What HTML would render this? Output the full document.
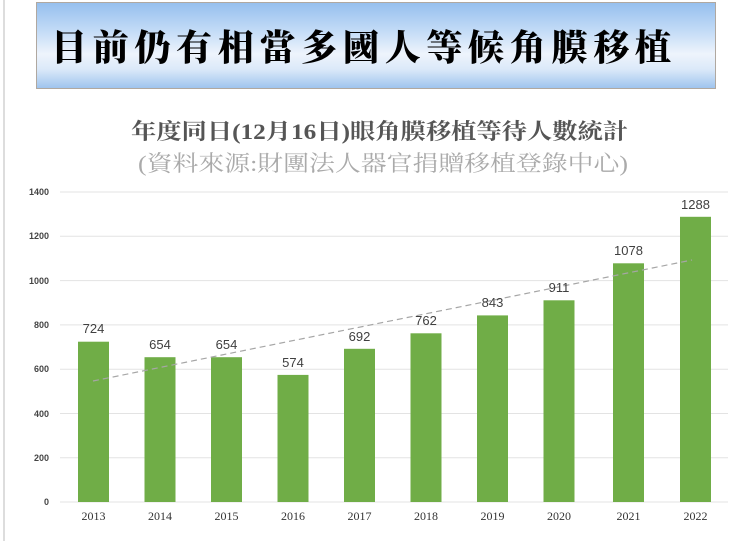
<!DOCTYPE html>
<html><head><meta charset="utf-8"><style>
body{margin:0;width:750px;height:541px;background:#fff;overflow:hidden;position:relative;font-family:"Liberation Sans","Noto Sans CJK TC",sans-serif}
.frame{position:absolute;left:3px;top:0;width:2px;height:541px;background:#ddd}
.banner{position:absolute;left:36px;top:2px;width:680px;height:87px;border:1px solid #b0a8a0;background:linear-gradient(#96bfee 0%,#c6ddf7 35%,#eef4fc 60%,#dbe9f9 78%,#9fc4ee 100%);box-sizing:border-box}
</style></head><body>
<div class="frame"></div>
<div class="banner"></div>
<svg width="750" height="541" style="position:absolute;left:0;top:0">
<text x="51" y="60" textLength="620" lengthAdjust="spacing" font-family="Noto Serif CJK SC,Noto Sans CJK TC,serif" font-weight="900" font-size="36" fill="#000">目前仍有相當多國人等候角膜移植</text>
<text x="131" y="139" textLength="497" lengthAdjust="spacingAndGlyphs" font-family="Liberation Serif,Noto Serif CJK SC,serif" font-size="22" fill="#555" font-weight="bold">年度同日(12月16日)眼角膜移植等待人數統計</text>
<text x="138" y="171" textLength="490" lengthAdjust="spacingAndGlyphs" font-family="Liberation Serif,Noto Serif CJK SC,serif" font-size="22" fill="#aaa">(資料來源:財團法人器官捐贈移植登錄中心)</text>
<g stroke="#e3e3e3" stroke-width="1">
<line x1="60" x2="728" y1="192" y2="192"/><line x1="60" x2="728" y1="236.3" y2="236.3"/><line x1="60" x2="728" y1="280.6" y2="280.6"/><line x1="60" x2="728" y1="324.9" y2="324.9"/><line x1="60" x2="728" y1="369.2" y2="369.2"/><line x1="60" x2="728" y1="413.5" y2="413.5"/><line x1="60" x2="728" y1="457.8" y2="457.8"/><line x1="60" x2="728" y1="502" y2="502"/>
</g>
<g font-size="9" font-weight="bold" fill="#444" text-anchor="end">
<text x="49" y="195">1400</text><text x="49" y="239">1200</text><text x="49" y="284">1000</text><text x="49" y="328">800</text><text x="49" y="372">600</text><text x="49" y="417">400</text><text x="49" y="461">200</text><text x="49" y="505">0</text>
</g>
<g fill="#70ad47">
<rect x="78" y="341.7" width="31" height="160.3"/>
<rect x="144.5" y="357.2" width="31" height="144.8"/>
<rect x="211" y="357.2" width="31" height="144.8"/>
<rect x="277.5" y="374.9" width="31" height="127.1"/>
<rect x="344" y="348.8" width="31" height="153.2"/>
<rect x="410.5" y="333.3" width="31" height="168.7"/>
<rect x="477" y="315.4" width="31" height="186.6"/>
<rect x="543.5" y="300.3" width="31" height="201.7"/>
<rect x="613" y="263.3" width="31" height="238.7"/>
<rect x="680" y="216.8" width="31" height="285.2"/>
</g>
<line x1="93" y1="381" x2="692" y2="260" stroke="#a6a6a6" stroke-width="1.2" stroke-dasharray="6,4"/>
<g font-size="13" fill="#404040" text-anchor="middle">
<text x="93.5" y="333">724</text><text x="160" y="349">654</text><text x="226.5" y="349">654</text><text x="293" y="367">574</text><text x="359.5" y="341">692</text><text x="426" y="325">762</text><text x="492.5" y="307">843</text><text x="559" y="292">911</text><text x="628.5" y="255">1078</text><text x="695.5" y="209">1288</text>
</g>
<g font-family="Liberation Serif,serif" font-size="12" fill="#333" text-anchor="middle">
<text x="93.5" y="520">2013</text><text x="160" y="520">2014</text><text x="226.5" y="520">2015</text><text x="293" y="520">2016</text><text x="359.5" y="520">2017</text><text x="426" y="520">2018</text><text x="492.5" y="520">2019</text><text x="559" y="520">2020</text><text x="628.5" y="520">2021</text><text x="695.5" y="520">2022</text>
</g>
</svg>
</body></html>
